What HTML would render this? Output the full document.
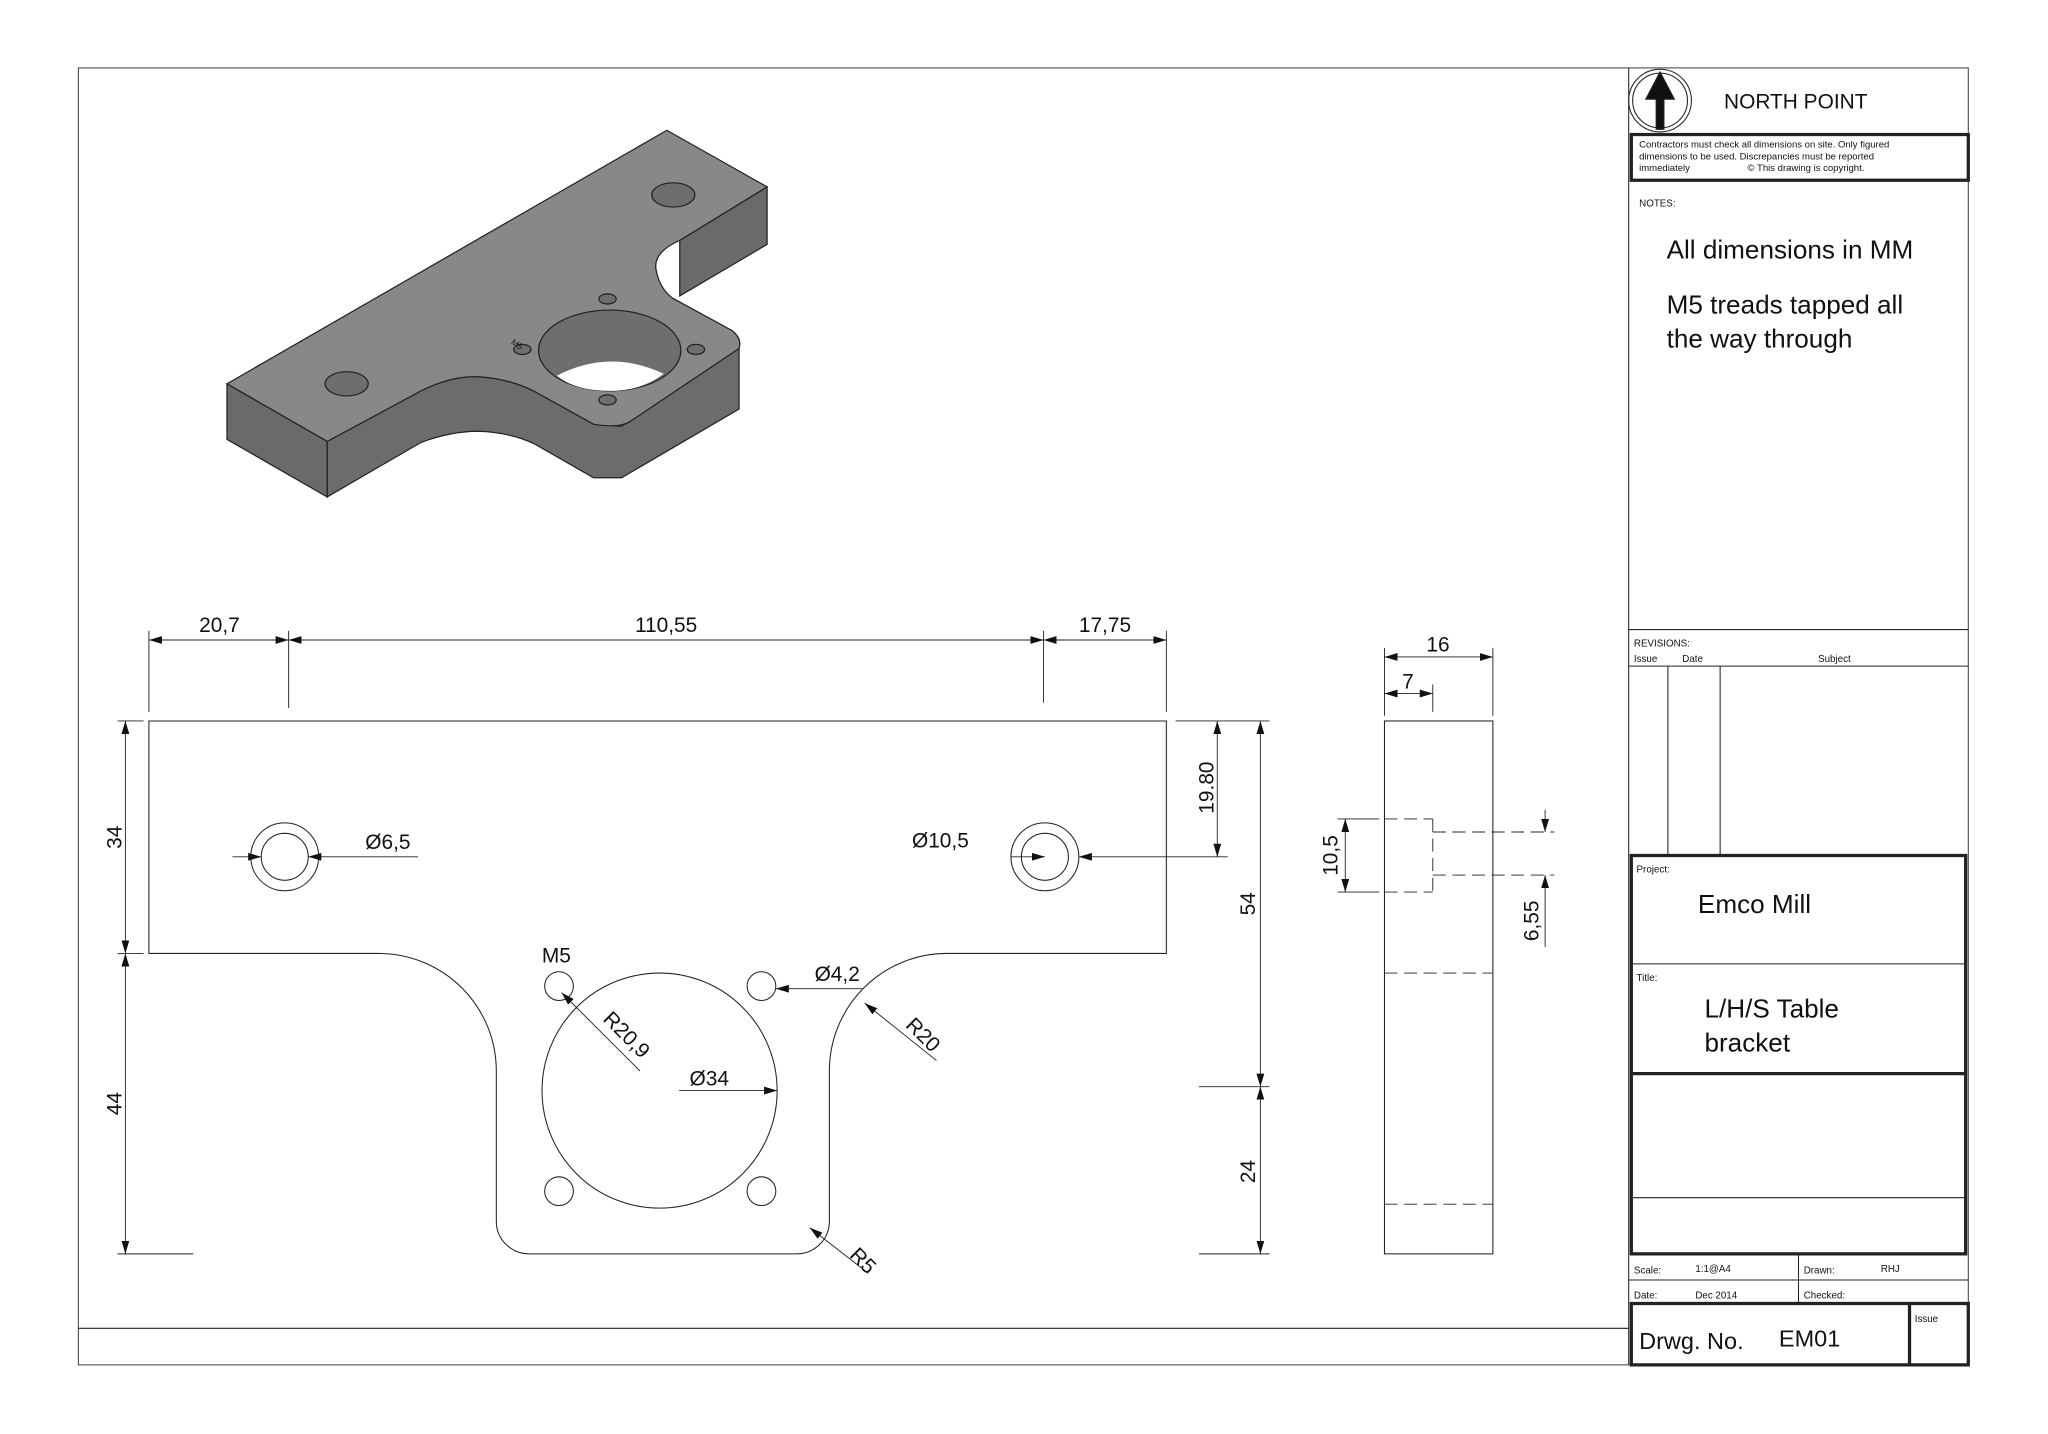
<!DOCTYPE html>
<html><head><meta charset="utf-8"><style>
html,body{margin:0;padding:0;background:#fff}
svg{display:block}
text{font-family:"Liberation Sans",sans-serif;fill:#111}
</style></head><body>
<svg width="2048" height="1434" viewBox="0 0 2048 1434" xmlns="http://www.w3.org/2000/svg">
<defs>
<marker id="a" viewBox="0 0 10 6" refX="10" refY="3" markerWidth="10" markerHeight="6" orient="auto-start-reverse" markerUnits="userSpaceOnUse"><path d="M0,0 L10,3 L0,6z" fill="#111"/></marker>
</defs>
<rect width="2048" height="1434" fill="#fff"/>

<!-- isometric part (2048 coords) -->
<g transform="translate(227,0) scale(1.078,1.01) translate(-227,0)">
<g stroke="#222" stroke-width="1.2">
<path d="M227,380 L227,435 L320,492 L320,437 Z" fill="#6a6a6a"/>
<path d="M320,437 L407,387 Q435,372 460,373 Q490,375 513,388 L567,420 L593,422 L702,337 L702,405 L593,473 L567,473 L513,440 Q490,428 460,427 Q435,427 407,438 L320,492 Z" fill="#6c6c6c"/>
<path d="M647,238 L728,185 L728,242 L647,293 Z" fill="#6a6a6a"/>
<path d="M227,380 L635,129 L728,185 L647,238 Q622,250 625,267 Q628,285 640,295 L695,327 Q705,335 702,345 L600,418 Q590,424 567,420 L513,388 Q490,375 460,373 Q435,372 407,387 L320,437 Z" fill="#888"/>
<ellipse cx="338" cy="380" rx="20" ry="12" fill="#6e6e6e"/>
<ellipse cx="641" cy="193" rx="20" ry="12" fill="#6e6e6e"/>
<ellipse cx="582" cy="347" rx="66" ry="40" fill="#6e6e6e"/>
<path d="M533,372 Q582,345 632,370 Q612,387 582,387 Q550,387 533,372Z" fill="#fff" stroke="none"/>
<ellipse cx="580" cy="296" rx="8" ry="5" fill="#6e6e6e"/>
<ellipse cx="501" cy="346" rx="8" ry="5" fill="#6e6e6e"/>
<ellipse cx="662" cy="346" rx="8" ry="5" fill="#6e6e6e"/>
<ellipse cx="580" cy="396" rx="8" ry="5" fill="#6e6e6e"/>
</g>
<text x="490" y="340" font-size="8" transform="rotate(35 490 340)">M5</text>
</g>

<g transform="scale(1.3061)" fill="none" stroke="#222" stroke-width="0.8">
<rect x="60" y="52" width="1447" height="993" stroke="#444"/>
<line x1="60" y1="1017" x2="1247" y2="1017"/>
<line x1="1247" y1="52" x2="1247" y2="1045"/>

<circle cx="1271" cy="77" r="24"/><circle cx="1271" cy="77" r="21"/>
<path d="M1271,55 L1282,76 L1274,76 L1274,99 L1268,99 L1268,76 L1260,76Z" fill="#111"/>
<rect x="1249" y="103" width="258" height="35" stroke-width="2.5"/>
<line x1="1247" y1="482" x2="1507" y2="482"/>
<line x1="1247" y1="510" x2="1507" y2="510"/>
<line x1="1277" y1="510" x2="1277" y2="655"/>
<line x1="1317" y1="510" x2="1317" y2="655"/>
<rect x="1249" y="655" width="256" height="305" stroke-width="2.5"/>
<line x1="1249" y1="738" x2="1505" y2="738"/>
<line x1="1249" y1="822" x2="1505" y2="822" stroke-width="2.5"/>
<line x1="1249" y1="917" x2="1505" y2="917"/>
<line x1="1247" y1="980" x2="1507" y2="980"/>
<line x1="1377" y1="960" x2="1377" y2="998"/>
<rect x="1249" y="998" width="258" height="47" stroke-width="2.5"/>
<line x1="1462" y1="998" x2="1462" y2="1045" stroke-width="2.5"/>

<path d="M114,552 L893,552 L893,730 L725,730 A90,90 0 0 0 635,820 L635,935 A25,25 0 0 1 610,960 L405,960 A25,25 0 0 1 380,935 L380,820 A90,90 0 0 0 290,730 L114,730 Z"/>
<circle cx="218" cy="656" r="18"/><circle cx="218" cy="656" r="26"/>
<circle cx="800" cy="656" r="18"/><circle cx="800" cy="656" r="26"/>
<circle cx="505" cy="835" r="90"/>
<circle cx="428" cy="755" r="11"/><circle cx="583" cy="755" r="11"/>
<circle cx="428" cy="912" r="11"/><circle cx="583" cy="912" r="11"/>

<g stroke-width="0.7">
<line x1="114" y1="483" x2="114" y2="545"/><line x1="221" y1="483" x2="221" y2="542"/>
<line x1="799" y1="483" x2="799" y2="538"/><line x1="893" y1="483" x2="893" y2="545"/>
<line x1="114" y1="490" x2="221" y2="490" marker-start="url(#a)" marker-end="url(#a)"/>
<line x1="221" y1="490" x2="799" y2="490" marker-start="url(#a)" marker-end="url(#a)"/>
<line x1="799" y1="490" x2="893" y2="490" marker-start="url(#a)" marker-end="url(#a)"/>
<line x1="90" y1="552" x2="110" y2="552"/><line x1="90" y1="730" x2="110" y2="730"/><line x1="90" y1="960" x2="148" y2="960"/>
<line x1="96" y1="552" x2="96" y2="730" marker-start="url(#a)" marker-end="url(#a)"/>
<line x1="96" y1="730" x2="96" y2="960" marker-start="url(#a)" marker-end="url(#a)"/>
<line x1="900" y1="552" x2="972" y2="552"/><line x1="918" y1="832" x2="972" y2="832"/><line x1="918" y1="960" x2="972" y2="960"/>
<line x1="965" y1="552" x2="965" y2="832" marker-start="url(#a)" marker-end="url(#a)"/>
<line x1="965" y1="832" x2="965" y2="960" marker-start="url(#a)" marker-end="url(#a)"/>
<line x1="932" y1="552" x2="932" y2="656" marker-start="url(#a)" marker-end="url(#a)"/>
<line x1="826" y1="656" x2="940" y2="656" marker-start="url(#a)"/>
<line x1="774" y1="656" x2="800" y2="656" marker-end="url(#a)"/>
<line x1="178" y1="656" x2="200" y2="656" marker-end="url(#a)"/>
<line x1="236" y1="656" x2="320" y2="656" marker-start="url(#a)"/>
<line x1="490" y1="820" x2="430" y2="760" marker-end="url(#a)"/>
<line x1="660" y1="757" x2="594" y2="757" marker-end="url(#a)"/>
<line x1="717" y1="812" x2="662" y2="768" marker-end="url(#a)"/>
<line x1="520" y1="835" x2="595" y2="835" marker-end="url(#a)"/>
<line x1="665" y1="975" x2="620" y2="940" marker-end="url(#a)"/>
</g>

<rect x="1060" y="552" width="83" height="408"/>
<g stroke-dasharray="10,5" stroke-width="0.7">
<line x1="1060" y1="745" x2="1143" y2="745"/><line x1="1060" y1="922" x2="1143" y2="922"/>
<line x1="1060" y1="627" x2="1097" y2="627"/><line x1="1060" y1="683" x2="1097" y2="683"/>
<line x1="1097" y1="627" x2="1097" y2="683"/>
<line x1="1097" y1="637" x2="1190" y2="637"/><line x1="1097" y1="670" x2="1190" y2="670"/>
</g>
<g stroke-width="0.7">
<line x1="1060" y1="496" x2="1060" y2="548"/><line x1="1143" y1="496" x2="1143" y2="548"/><line x1="1097" y1="524" x2="1097" y2="545"/>
<line x1="1060" y1="503" x2="1143" y2="503" marker-start="url(#a)" marker-end="url(#a)"/>
<line x1="1060" y1="531" x2="1097" y2="531" marker-start="url(#a)" marker-end="url(#a)"/>
<line x1="1024" y1="627" x2="1056" y2="627"/><line x1="1024" y1="683" x2="1056" y2="683"/>
<line x1="1030" y1="627" x2="1030" y2="683" marker-start="url(#a)" marker-end="url(#a)"/>
<line x1="1183" y1="620" x2="1183" y2="637" marker-end="url(#a)"/>
<line x1="1183" y1="725" x2="1183" y2="670" marker-end="url(#a)"/>
</g>
</g>

<g transform="scale(1.3061)">
<text x="1320" y="83" font-size="16">NORTH POINT</text>
<text x="1255" y="113" font-size="7.3">Contractors must check all dimensions on site. Only figured</text>
<text x="1255" y="122" font-size="7.3">dimensions to be used. Discrepancies must be reported</text>
<text x="1255" y="131" font-size="7.3">immediately</text><text x="1338" y="131" font-size="7.3">© This drawing is copyright.</text>
<text x="1255" y="158" font-size="7.5">NOTES:</text>
<text x="1276" y="198" font-size="20">All dimensions in MM</text>
<text x="1276" y="240" font-size="20">M5 treads tapped all</text>
<text x="1276" y="266" font-size="20">the way through</text>
<text x="1251" y="495" font-size="7.5">REVISIONS:</text>
<text x="1251" y="507" font-size="7.5">Issue</text><text x="1288" y="507" font-size="7.5">Date</text><text x="1392" y="507" font-size="7.5">Subject</text>
<text x="1253" y="668" font-size="7.5">Project:</text>
<text x="1300" y="699" font-size="20">Emco Mill</text>
<text x="1253" y="751" font-size="7.5">Title:</text>
<text x="1305" y="779" font-size="20">L/H/S Table</text>
<text x="1305" y="805" font-size="20">bracket</text>
<text x="1251" y="975" font-size="7.5">Scale:</text><text x="1298" y="974" font-size="7.5">1:1@A4</text>
<text x="1381" y="975" font-size="7.5">Drawn:</text><text x="1440" y="974" font-size="7.5">RHJ</text>
<text x="1251" y="994" font-size="7.5">Date:</text><text x="1298" y="994" font-size="7.5">Dec 2014</text>
<text x="1381" y="994" font-size="7.5">Checked:</text>
<text x="1466" y="1012" font-size="7.5">Issue</text>
<text x="1255" y="1033" font-size="18">Drwg. No.</text><text x="1362" y="1031" font-size="18">EM01</text>

<g font-size="16">
<text x="168" y="484" text-anchor="middle">20,7</text>
<text x="510" y="484" text-anchor="middle">110,55</text>
<text x="846" y="484" text-anchor="middle">17,75</text>
<text x="1101" y="499" text-anchor="middle">16</text>
<text x="1078" y="527" text-anchor="middle">7</text>
<text x="297" y="650" text-anchor="middle">Ø6,5</text>
<text x="720" y="649" text-anchor="middle">Ø10,5</text>
<text x="641" y="751" text-anchor="middle">Ø4,2</text>
<text x="543" y="831" text-anchor="middle">Ø34</text>
<text x="426" y="737" text-anchor="middle" fill="#777">M5</text>
<text transform="translate(93,641) rotate(-90)" text-anchor="middle">34</text>
<text transform="translate(93,845) rotate(-90)" text-anchor="middle">44</text>
<text transform="translate(961,692) rotate(-90)" text-anchor="middle">54</text>
<text transform="translate(961,897) rotate(-90)" text-anchor="middle">24</text>
<text transform="translate(929,603) rotate(-90)" text-anchor="middle">19.80</text>
<text transform="translate(1024,655) rotate(-90)" text-anchor="middle">10,5</text>
<text transform="translate(1178,705) rotate(-90)" text-anchor="middle">6,55</text>
<text transform="translate(476,796) rotate(45)" text-anchor="middle">R20,9</text>
<text transform="translate(703,796) rotate(45)" text-anchor="middle">R20</text>
<text transform="translate(657,969) rotate(45)" text-anchor="middle">R5</text>
</g>
</g>
</svg>
</body></html>
